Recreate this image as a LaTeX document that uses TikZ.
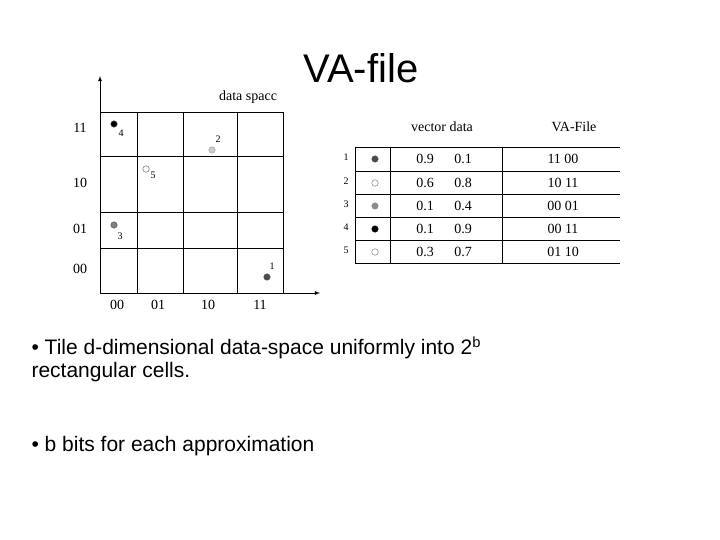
\documentclass[tikz,border=0pt]{standalone}
\usepackage{fontspec}
\setmainfont{Liberation Serif}
\newfontfamily\arial{Liberation Sans}
\begin{document}
\begin{tikzpicture}[x=1pt,y=-1pt,
  lab/.style={font=\fontsize{14}{16}\selectfont},
  sm/.style={font=\fontsize{10}{11}\selectfont},
  pt/.style={circle,draw=black!70,inner sep=0pt,minimum size=6.5pt},
  body/.style={font=\arial\fontsize{21}{25}\selectfont,anchor=west}]
\useasboundingbox (0,0) rectangle (720,540);
\node[font=\arial\fontsize{40}{44}\selectfont] (title) at (361,68) {VA-file};
% grid
\draw[thick] (100,112) rectangle (283,293);
\foreach \x in {137,183,237} \draw (\x,112) -- (\x,293);
\foreach \y in {156,212,248} \draw (100,\y) -- (283,\y);
\coordinate (o) at (100,293);
\coordinate (ytop) at (100,76);
\coordinate (xend) at (320,293);
\draw[thick,-latex] (o) -- (ytop);
\draw[thick,-latex] (o) -- (xend);
\node[lab] (ds) at (248,97) {data spacc};
\foreach \t/\y in {11/128,10/183,01/229,00/269} \node[lab] (y\t) at (80,\y) {\t};
\foreach \t/\x in {00/117,01/158,10/208,11/260} \node[lab] (x\t) at (\x,305) {\t};
\node[pt,fill=black] (p4) at (114,124) {}; \node[sm] (l4) at (121,133) {4};
\node[pt,fill=black!20,draw=black!40] (p2) at (212,150) {}; \node[sm] (l2) at (218,139) {2};
\node[pt,fill=white] (p5) at (146,169) {}; \node[sm] (l5) at (153,175) {5};
\node[pt,fill=black!50] (p3) at (114,225) {}; \node[sm] (l3) at (120,236) {3};
\node[pt,fill=black!70] (p1) at (267,277) {}; \node[sm] (l1) at (272,266) {1};
% table
\node[lab] (h1) at (442,127) {vector data};
\node[lab] (h2) at (574,127) {VA-File};
\foreach \y in {147,171,194,217,240,263} \draw (355,\y) -- (620,\y);
\foreach \x in {355,390,502} \draw (\x,147) -- (\x,263);
\foreach \n/\y/\a/\b/\c/\f/\d in {1/159/0.9/0.1/11 00/black!70/black!70,2/183/0.6/0.8/10 11/white/black!60,3/206/0.1/0.4/00 01/black!45/black!45,4/229/0.1/0.9/00 11/black/black,5/252/0.3/0.7/01 10/white/black!60}{
  \node[sm] (n\n) at (346,\y-2) {\n};
  \node[pt,fill=\f,draw=\d] (c\n) at (375,\y) {};
  \node[lab] (a\n) at (425,\y) {\a};
  \node[lab] (b\n) at (463,\y) {\b};
  \node[lab] (v\n) at (563,\y) {\c};
}
\node[body] (t1) at (28,348) {• Tile d-dimensional data-space uniformly into 2\textsuperscript{b}};
\node[body] (t2) at (28,372) {rectangular cells.};
\node[body] (t3) at (28,446) {• b bits for each approximation};
\end{tikzpicture}
\end{document}
